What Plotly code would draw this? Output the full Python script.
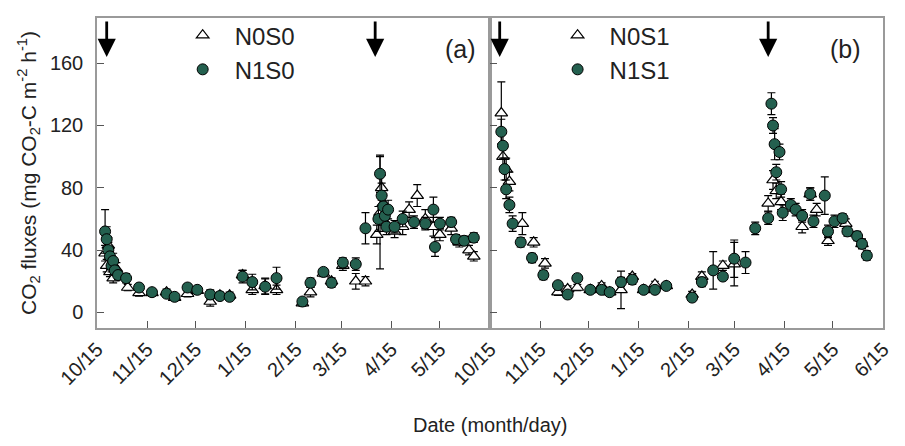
import plotly.graph_objects as go

# ---------------- data ----------------
tick_vals = ["2013-10-15", "2013-11-15", "2013-12-15", "2014-01-15", "2014-02-15",
             "2014-03-15", "2014-04-15", "2014-05-15", "2014-06-15"]
tick_text_a = ["10/15", "11/15", "12/15", "1/15", "2/15", "3/15", "4/15", "5/15", " "]
tick_text_b = ["10/15", "11/15", "12/15", "1/15", "2/15", "3/15", "4/15", "5/15", "6/15"]
x_range = ["2013-10-15", "2014-06-15"]
arrow_dates = ["2013-10-21", "2014-04-05"]

# Panel (a): N0S0 (triangles)
n0s0_date = ["2013-10-20", "2013-10-21", "2013-10-22", "2013-10-23", "2013-10-25", "2013-10-27",
             "2013-11-03", "2013-11-10", "2013-11-18", "2013-11-27", "2013-12-02", "2013-12-10",
             "2013-12-16", "2013-12-24", "2013-12-30", "2014-01-05", "2014-01-13", "2014-01-19",
             "2014-01-27", "2014-02-03", "2014-02-19", "2014-02-24", "2014-03-04", "2014-03-09",
             "2014-03-16", "2014-03-24", "2014-03-30", "2014-04-06", "2014-04-08", "2014-04-09",
             "2014-04-10", "2014-04-11", "2014-04-17", "2014-04-22", "2014-04-26", "2014-05-01",
             "2014-05-06", "2014-05-11", "2014-05-15", "2014-05-22", "2014-05-27", "2014-06-02",
             "2014-06-05"]
n0s0_val = [38, 30, 43, 26, 22, 28, 16, 12.5, 12.5, 13, 9.5, 12, 14, 7, 11, 11, 24, 14.5,
            17, 14.5, 6, 13, 25, 20, 30, 20, 20, 50, 64, 80, 70, 58, 52, 55, 66, 75,
            60, 55, 50, 54, 45, 40, 36]
n0s0_err = [5, 4, 5, 3, 3, 4, 2, 2, 2, 2, 2, 2, 2, 3, 2, 2, 3, 3, 5, 3, 2, 3, 2, 2, 3, 5, 3,
            6, 36, 8, 6, 6, 4, 5, 5, 7, 6, 6, 4, 4, 3, 3, 3]

# Panel (a): N1S0 (circles)
n1s0_date = ["2013-10-20", "2013-10-21", "2013-10-22", "2013-10-23", "2013-10-24", "2013-10-25",
             "2013-10-26", "2013-10-28", "2013-11-02", "2013-11-10", "2013-11-18", "2013-11-27",
             "2013-12-02", "2013-12-10", "2013-12-16", "2013-12-24", "2013-12-30", "2014-01-05",
             "2014-01-13", "2014-01-19", "2014-01-27", "2014-02-03", "2014-02-19", "2014-02-24",
             "2014-03-04", "2014-03-09", "2014-03-16", "2014-03-24", "2014-03-30", "2014-04-07",
             "2014-04-08", "2014-04-09", "2014-04-10", "2014-04-11", "2014-04-12", "2014-04-13",
             "2014-04-17", "2014-04-22", "2014-04-29", "2014-05-06", "2014-05-11", "2014-05-12",
             "2014-05-15", "2014-05-22", "2014-05-25", "2014-05-30", "2014-06-05"]
n1s0_val = [52, 47, 40, 36, 30, 33, 27, 24, 22, 16, 13, 12, 10, 16, 14.5, 11.5, 10.5, 10,
            23, 19.5, 16.5, 22, 7, 19, 26, 19, 32, 31, 54, 60, 89, 75, 68, 62, 55, 66,
            55, 60, 58, 57, 66, 42, 57, 58, 47, 46, 48]
n1s0_err = [14, 8, 5, 6, 4, 5, 3, 3, 3, 2, 2, 2, 2, 2, 2, 3, 2, 2, 4, 5, 5, 7, 2, 3, 2, 3,
            3, 4, 10, 8, 12, 8, 7, 6, 5, 6, 4, 5, 4, 4, 8, 6, 4, 3, 3, 3, 3]

# Panel (b): N0S1 (triangles)
n0s1_date = ["2013-10-22", "2013-10-23", "2013-10-25", "2013-10-27", "2013-11-04", "2013-11-11",
             "2013-11-18", "2013-11-26", "2013-12-02", "2013-12-08", "2013-12-16", "2013-12-23",
             "2013-12-28", "2014-01-04", "2014-01-11", "2014-01-18", "2014-01-25", "2014-02-01",
             "2014-02-17", "2014-02-23", "2014-03-08", "2014-03-15", "2014-04-05", "2014-04-08",
             "2014-04-10", "2014-04-13", "2014-04-26", "2014-05-01", "2014-05-05", "2014-05-12",
             "2014-05-23", "2014-06-02"]
n0s1_val = [128, 100, 92, 84, 57, 45, 31.5, 13, 15, 16, 14.5, 17, 13, 14.5, 23, 14.5, 18, 17,
            11.5, 23, 30, 31, 70, 85, 78, 71, 55, 76, 66, 46, 57, 44]
n0s1_err = [20, 8, 7, 6, 7, 3, 3, 2, 2, 2, 2, 2, 2, 12, 2, 2, 2, 2, 2, 3, 3, 14, 5, 6, 5, 5,
            4, 4, 4, 3, 3, 3]

# Panel (b): N1S1 (circles)
n1s1_date = ["2013-10-22", "2013-10-23", "2013-10-24", "2013-10-25", "2013-10-27", "2013-10-29",
             "2013-11-03", "2013-11-10", "2013-11-17", "2013-11-26", "2013-12-02", "2013-12-08",
             "2013-12-16", "2013-12-23", "2013-12-28", "2014-01-04", "2014-01-11", "2014-01-18",
             "2014-01-25", "2014-02-01", "2014-02-17", "2014-02-23", "2014-03-02", "2014-03-08",
             "2014-03-15", "2014-03-22", "2014-03-28", "2014-04-05", "2014-04-07", "2014-04-08",
             "2014-04-09", "2014-04-10", "2014-04-12", "2014-04-13", "2014-04-14", "2014-04-19",
             "2014-04-22", "2014-04-26", "2014-05-01", "2014-05-03", "2014-05-10", "2014-05-12",
             "2014-05-16", "2014-05-21", "2014-05-24", "2014-05-30", "2014-06-02", "2014-06-05"]
n1s1_val = [116, 107, 92, 79, 69, 57, 45, 35, 24, 17.5, 11.5, 22, 14.5, 14.5, 13, 19.5, 21,
            14.5, 14.5, 17, 9.5, 19.5, 27, 23, 34.5, 32, 54, 60.5, 134, 120, 108, 90, 103,
            79, 64, 69, 66, 62, 76, 58.5, 75, 52, 58.5, 60.5, 52, 49, 44, 36.5]
n1s1_err = [8, 8, 7, 6, 5, 5, 3, 3, 3, 2, 2, 2, 2, 2, 2, 3, 3, 2, 2, 2, 2, 3, 12, 2, 12, 7,
            4, 4, 7, 5, 10, 5, 5, 5, 5, 4, 4, 4, 4, 4, 12, 4, 4, 3, 3, 3, 3, 3]

# ---------------- styles ----------------
FONT = "Liberation Sans, Arial, sans-serif"
GREEN = "#24604f"
FRAME = "#9a9a9a"

fig = go.Figure()


def add_series(dates, vals, errs, name, symbol, xa, ya, legend):
    if symbol == "triangle-up-open":
        marker = dict(symbol="triangle-up", size=11, color="white",
                      line=dict(color="black", width=1.2))
    else:
        marker = dict(symbol="circle", size=11, color=GREEN,
                      line=dict(color="black", width=1))
    fig.add_trace(go.Scatter(
        x=dates, y=vals, mode="markers", name="\u2002" + name, marker=marker,
        error_y=dict(type="data", array=errs, color="black", thickness=1.2, width=4),
        xaxis=xa, yaxis=ya, legend=legend))


add_series(n0s0_date, n0s0_val, n0s0_err, "N0S0", "triangle-up-open", "x", "y", "legend")
add_series(n1s0_date, n1s0_val, n1s0_err, "N1S0", "circle", "x", "y", "legend")
add_series(n0s1_date, n0s1_val, n0s1_err, "N0S1", "triangle-up-open", "x2", "y2", "legend2")
add_series(n1s1_date, n1s1_val, n1s1_err, "N1S1", "circle", "x2", "y2", "legend2")

common_x = dict(type="date", range=x_range, tickvals=tick_vals, tickangle=-45,
                ticks="inside", ticklen=7, tickcolor="#555", showline=True,
                linecolor=FRAME, linewidth=1.5, mirror=True, showgrid=False,
                zeroline=False, automargin=False,
                tickfont=dict(size=20, color="#222", family=FONT))
common_y = dict(range=[-10, 189], tickvals=[0, 40, 80, 120, 160], ticks="inside",
                ticklen=7, tickcolor="#555", showline=True, linecolor=FRAME,
                linewidth=1.5, mirror=True, showgrid=False, zeroline=False,
                automargin=False, tickfont=dict(size=20, color="#222", family=FONT))

# the page body adds an 8 px offset, so the figure is 8 px smaller than the window
fig.update_layout(
    width=897, height=438,
    margin=dict(l=89, r=22, t=5, b=118),
    paper_bgcolor="white", plot_bgcolor="white",
    font=dict(family=FONT, color="#222"),
    xaxis=dict(domain=[0, 0.5], ticktext=tick_text_a, anchor="y", **common_x),
    xaxis2=dict(domain=[0.5, 1], ticktext=tick_text_b, anchor="y2", **common_x),
    yaxis=dict(domain=[0, 1], anchor="x", ticklabelstandoff=8,
               title=dict(text="CO<sub>2</sub> fluxes (mg CO<sub>2</sub>-C m<sup>-2</sup> h<sup>-1</sup>)",
                          font=dict(size=21, family=FONT, color="#222"), standoff=8),
               **common_y),
    yaxis2=dict(domain=[0, 1], anchor="x2", showticklabels=False, **common_y),
    legend=dict(x=0.109, y=1.016, xanchor="left", yanchor="top", bgcolor="rgba(0,0,0,0)",
                font=dict(size=24, family=FONT, color="#222"), itemwidth=30,
                tracegroupgap=0),
    legend2=dict(x=0.586, y=1.016, xanchor="left", yanchor="top", bgcolor="rgba(0,0,0,0)",
                 font=dict(size=24, family=FONT, color="#222"), itemwidth=30,
                 tracegroupgap=0),
    showlegend=True,
)

# x-axis title
fig.add_annotation(text="Date (month/day)", xref="paper", yref="paper", x=0.5, y=0,
                   yshift=-97, showarrow=False, yanchor="middle",
                   font=dict(size=20, family=FONT, color="#222"))

# panel labels
fig.add_annotation(text="(a)", xref="x domain", yref="y domain", x=0.925, y=0.9,
                   showarrow=False, yanchor="middle", xanchor="center",
                   font=dict(size=25, family=FONT, color="#222"))
fig.add_annotation(text="(b)", xref="x2 domain", yref="y2 domain", x=0.905, y=0.9,
                   showarrow=False, yanchor="middle", xanchor="center",
                   font=dict(size=25, family=FONT, color="#222"))

# arrows marking events
for xa, ya in (("x", "y"), ("x2", "y2")):
    for d in arrow_dates:
        fig.add_annotation(x=d, y=164, xref=xa, yref=ya, ax=0, ay=-37, text="",
                           showarrow=True, arrowhead=2, arrowsize=1.3, arrowwidth=2.8,
                           arrowcolor="black")

fig.write_html("out.html")
